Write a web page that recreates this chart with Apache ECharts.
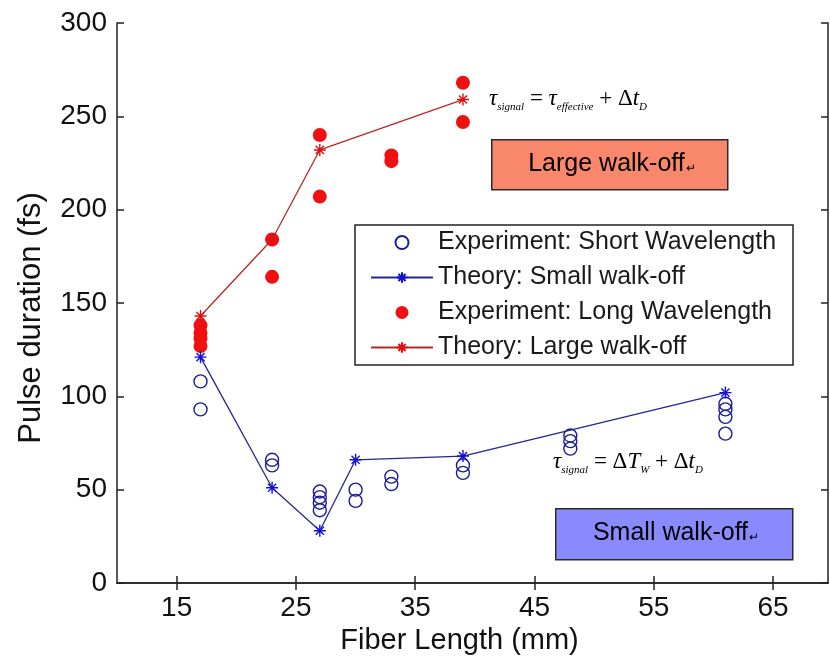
<!DOCTYPE html>
<html><head><meta charset="utf-8">
<script src="https://cdn.jsdelivr.net/npm/echarts@6/dist/echarts.min.js"></script>
<style>html,body{margin:0;padding:0;background:#fff}#c{width:830px;height:665px}</style>
</head><body><div id="c"></div>
<script>
// ---- data ----
const xTicks = [15, 25, 35, 45, 55, 65];
const yTicks = [0, 50, 100, 150, 200, 250, 300];
const shortExpX = [17, 17, 23, 23, 27, 27, 27, 27, 30, 30, 33, 33, 39, 39, 48, 48, 48, 61, 61, 61, 61];
const shortExpY = [108, 93, 66, 63, 49, 46, 43, 39, 50, 44, 57, 53, 63, 59, 79, 76, 72, 96, 93, 89, 80];
const smallTheoryX = [17, 23, 27, 30, 39, 61];
const smallTheoryY = [121, 51, 28, 66, 68, 102];
const longExpX = [17, 17, 17, 17, 23, 23, 27, 27, 33, 33, 39, 39];
const longExpY = [138, 134, 131, 127, 184, 164, 240, 207, 229, 226, 268, 247];
const largeTheoryX = [17, 23, 27, 39];
const largeTheoryY = [143, 184, 232, 259];
const seriesNames = ['Experiment: Short Wavelength', 'Theory: Small walk-off', 'Experiment: Long Wavelength', 'Theory: Large walk-off'];

const pairs = (xs, ys) => xs.map((x, i) => [x, ys[i]]);
const STAR = 'path://M0,5L10,5M5,0L5,10M1.6,1.6L8.4,8.4M1.6,8.4L8.4,1.6';
const SANS = '"Liberation Sans", Arial, sans-serif';
const SERIF = '"Liberation Serif", "Times New Roman", serif';

const chart = echarts.init(document.getElementById('c'), null, {renderer: 'canvas'});

const mathRich = {
  a: {fontSize: 23, fontStyle: 'italic', fontFamily: SERIF, color: '#111', lineHeight: 28},
  o: {fontSize: 23, fontFamily: SERIF, color: '#111', lineHeight: 28},
  s: {fontSize: 11, fontStyle: 'italic', fontFamily: SERIF, color: '#111', lineHeight: 11, verticalAlign: 'bottom'}
};
const boxRich = (col) => ({
  t: {fontSize: 25, fontFamily: SANS, color: col, lineHeight: 30},
  r: {fontSize: 12, fontFamily: SANS, color: '#b8b8b8', lineHeight: 14, verticalAlign: 'bottom', padding: [0, 0, 4, 1]}
});

const axisLineStyle = {color: '#222', width: 1.5};

chart.setOption({
  animation: false,
  backgroundColor: '#fff',
  grid: {left: 117, right: 2, top: 23, bottom: 82, containLabel: false},
  xAxis: [{
    type: 'value', min: 10, max: 69.6,
    name: 'Fiber Length (mm)', nameLocation: 'middle', nameGap: 40,
    nameTextStyle: {fontSize: 29, fontFamily: SANS, color: '#111', padding: [0, 26, 0, 0]},
    axisLine: {show: true, lineStyle: axisLineStyle},
    axisTick: {show: true, inside: true, length: 7, customValues: xTicks, lineStyle: axisLineStyle},
    axisLabel: {show: true, customValues: xTicks, fontSize: 28, fontFamily: SANS, color: '#111', margin: 11},
    splitLine: {show: false}
  }, {
    type: 'value', min: 10, max: 69.6, position: 'top',
    axisLine: {show: true, lineStyle: axisLineStyle},
    axisTick: {show: true, inside: true, length: 7, customValues: xTicks, lineStyle: axisLineStyle},
    axisLabel: {show: false},
    splitLine: {show: false}
  }],
  yAxis: [{
    type: 'value', min: 0, max: 300, interval: 50,
    name: 'Pulse duration (fs)', nameLocation: 'middle', nameGap: 70,
    nameTextStyle: {fontSize: 31, fontFamily: SANS, color: '#111', padding: [0, 30, 0, 0]},
    axisLine: {show: true, lineStyle: axisLineStyle},
    axisTick: {show: true, inside: true, length: 7, lineStyle: axisLineStyle},
    axisLabel: {fontSize: 28, fontFamily: SANS, color: '#111', margin: 10},
    splitLine: {show: false}
  }, {
    type: 'value', min: 0, max: 300, interval: 50, position: 'right',
    axisLine: {show: true, lineStyle: axisLineStyle},
    axisTick: {show: true, inside: true, length: 7, lineStyle: axisLineStyle},
    axisLabel: {show: false},
    splitLine: {show: false}
  }],
  legend: {
    orient: 'vertical', left: 355, top: 225,
    padding: [5, 10, 5, 15],
    itemWidth: 62, itemHeight: 13, itemGap: 10,
    backgroundColor: '#fff', borderColor: '#222', borderWidth: 1.5,
    textStyle: {fontSize: 25, fontFamily: SANS, color: '#1a1a1a', lineHeight: 25, width: 345},
    data: seriesNames,
    selectedMode: false
  },
  series: [{
    name: seriesNames[0], type: 'scatter',
    data: pairs(shortExpX, shortExpY),
    symbol: 'circle', symbolSize: 13,
    itemStyle: {color: 'rgba(255,255,255,0)', borderColor: '#1c1c9a', borderWidth: 1.4, opacity: 1}
  }, {
    name: seriesNames[1], type: 'line',
    data: pairs(smallTheoryX, smallTheoryY),
    symbol: STAR, symbolSize: 12, showSymbol: true,
    lineStyle: {color: '#26268e', width: 1.3},
    itemStyle: {color: '#1010d8', borderColor: '#1010d8', borderWidth: 1.4}
  }, {
    name: seriesNames[2], type: 'scatter',
    data: pairs(longExpX, longExpY),
    symbol: 'circle', symbolSize: 14,
    itemStyle: {color: '#f01010', opacity: 1}
  }, {
    name: seriesNames[3], type: 'line',
    data: pairs(largeTheoryX, largeTheoryY),
    symbol: STAR, symbolSize: 12, showSymbol: true,
    lineStyle: {color: '#b82828', width: 1.3},
    itemStyle: {color: '#e01010', borderColor: '#e01010', borderWidth: 1.4}
  }],
  graphic: [{
    type: 'text', left: 489, top: 87, z: 100,
    style: {text: '{a|τ}{s|signal}{o| = }{a|τ}{s|effective}{o| + Δ}{a|t}{s|D}', rich: mathRich}
  }, {
    type: 'text', left: 553, top: 450, z: 100,
    style: {text: '{a|τ}{s|signal}{o| = Δ}{a|T}{s|W}{o| + Δ}{a|t}{s|D}', rich: mathRich}
  }, {
    type: 'rect', left: 491, top: 139, z: 100,
    shape: {width: 236, height: 50},
    style: {fill: '#f9876c', stroke: '#2a2a2a', lineWidth: 1.5}
  }, {
    type: 'text', x: 612, y: 164, z: 101,
    style: {text: '{t|Large walk-off}{r|↵}', rich: boxRich('#2a1414'), align: 'center', verticalAlign: 'middle'}
  }, {
    type: 'rect', left: 555, top: 508, z: 100,
    shape: {width: 237, height: 51},
    style: {fill: '#8a8aff', stroke: '#2a2a2a', lineWidth: 1.5}
  }, {
    type: 'text', x: 676, y: 533, z: 101,
    style: {text: '{t|Small walk-off}{r|↵}', rich: boxRich('#16164a'), align: 'center', verticalAlign: 'middle'}
  }]
});
</script>
</body></html>
